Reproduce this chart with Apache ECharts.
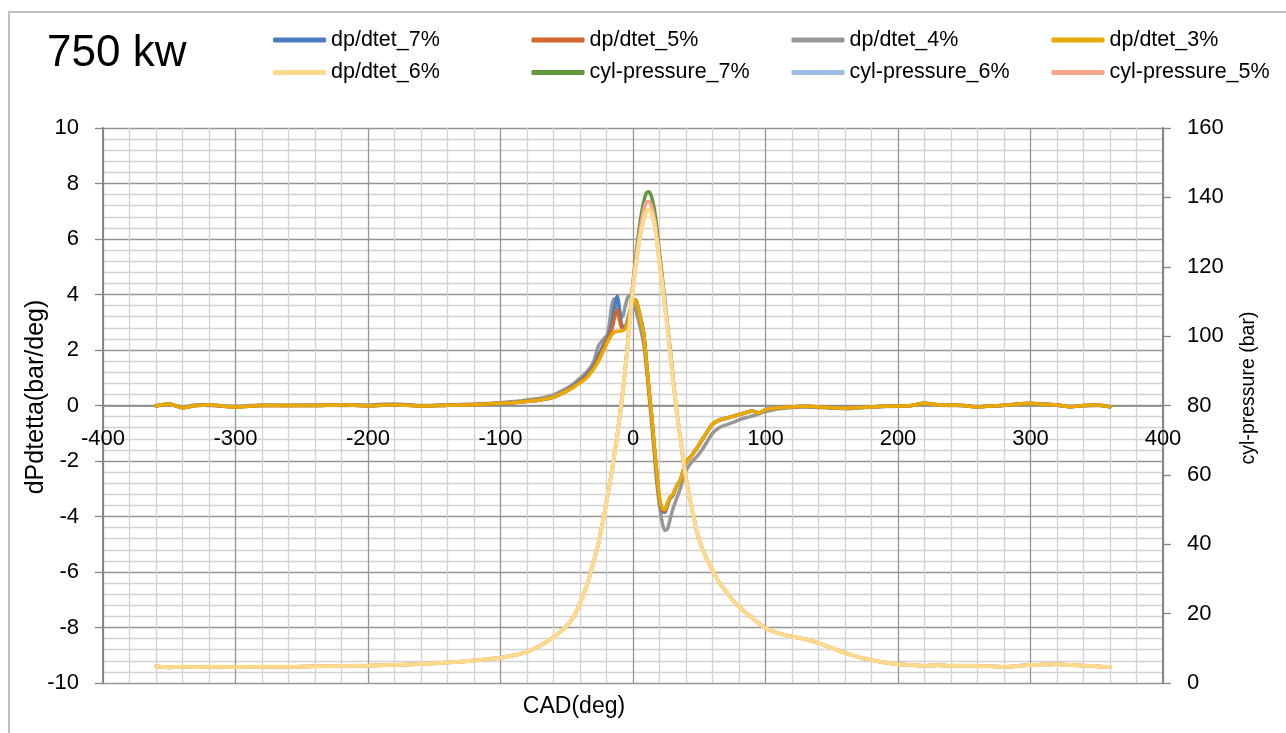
<!DOCTYPE html>
<html>
<head>
<meta charset="utf-8">
<script src="https://cdn.jsdelivr.net/npm/echarts@6/dist/echarts.min.js"></script>
<style>
html,body{margin:0;padding:0;background:#fff;}
#chart{width:1286px;height:733px;}
</style>
</head>
<body>
<div id="chart"></div>
<script>
// Crank angle (deg)
const CAD = [
  -360,-350,-340,-330,-320,-300,-280,-260,-240,-220,-200,-180,-160,-140,-120,-100,
  -90,-80,-70,-60,-50,
  -45,-40,-35,-30,
  -26,-22,-19,-16,-14,-12,-10,-8,-6,-4,-2,
  0,2,4,6,8,10,12,14,16,18,20,22,24,26,28,30,
  33,36,40,44,48,52,56,60,
  65,70,75,80,85,90,95,100,
  110,120,130,140,150,160,170,180,190,200,210,220,230,240,250,260,270,280,290,300,310,320,330,340,350,360
];

// dP/dtheta (bar/deg) - left axis
const dpdtet7 = [
  -0.02,0.05,-0.08,0.0,0.02,-0.05,0.0,0.0,0.0,0.02,-0.01,0.03,-0.02,0.01,0.03,0.08,
  0.1,0.15,0.2,0.3,0.52,
  0.7,0.88,1.1,1.4,
  1.8,2.2,2.45,2.95,3.55,3.95,3.4,2.85,2.85,3.1,3.45,
  3.75,3.8,3.5,3.1,2.65,1.65,0.6,-0.35,-1.5,-2.5,-3.4,-3.8,-3.85,-3.6,-3.35,-3.25,
  -2.9,-2.65,-2.05,-1.82,-1.55,-1.25,-0.95,-0.68,
  -0.53,-0.46,-0.4,-0.33,-0.26,-0.2,-0.27,-0.15,
  -0.08,-0.05,-0.03,-0.05,-0.08,-0.1,-0.07,-0.05,-0.03,-0.02,0.0,0.08,0.03,0.01,0.0,-0.05,-0.02,0.01,0.05,0.08,0.04,0.02,-0.05,0.0,0.02,-0.05
];
const dpdtet5 = [
  -0.02,0.05,-0.08,0.0,0.02,-0.05,0.0,0.0,0.0,0.02,-0.01,0.03,-0.02,0.01,0.03,0.08,
  0.1,0.15,0.2,0.3,0.52,
  0.68,0.85,1.05,1.35,
  1.7,2.1,2.4,2.75,3.15,3.45,3.05,2.75,2.8,3.05,3.42,
  3.72,3.8,3.5,3.05,2.6,1.62,0.6,-0.32,-1.45,-2.45,-3.35,-3.75,-3.8,-3.55,-3.32,-3.22,
  -2.9,-2.65,-2.05,-1.82,-1.55,-1.25,-0.95,-0.68,
  -0.53,-0.46,-0.4,-0.33,-0.26,-0.2,-0.27,-0.15,
  -0.08,-0.05,-0.03,-0.05,-0.08,-0.1,-0.07,-0.05,-0.03,-0.02,0.0,0.08,0.03,0.01,0.0,-0.05,-0.02,0.01,0.05,0.08,0.04,0.02,-0.05,0.0,0.02,-0.05
];
const dpdtet4 = [
  0.0,0.03,-0.05,0.02,0.0,-0.03,0.02,0.0,0.01,0.0,0.02,0.05,0.0,0.02,0.05,0.1,
  0.14,0.2,0.26,0.38,0.62,
  0.78,0.98,1.2,1.55,
  2.15,2.4,2.6,3.6,3.85,3.55,3.2,3.2,3.55,3.9,3.98,
  3.7,3.45,3.1,2.7,2.25,1.4,0.4,-0.6,-1.7,-2.8,-3.6,-4.2,-4.5,-4.45,-4.1,-3.75,
  -3.35,-2.95,-2.35,-2.05,-1.85,-1.6,-1.3,-1.0,
  -0.8,-0.7,-0.62,-0.52,-0.44,-0.38,-0.3,-0.22,
  -0.12,-0.07,-0.05,-0.07,-0.09,-0.12,-0.09,-0.06,-0.04,-0.03,-0.01,0.06,0.02,0.0,-0.01,-0.04,-0.02,0.0,0.04,0.06,0.05,0.01,-0.03,-0.01,0.0,-0.04
];
const dpdtet3 = [
  -0.02,0.05,-0.08,0.0,0.02,-0.05,0.0,0.0,0.0,0.02,-0.01,0.03,-0.02,0.01,0.03,0.08,
  0.1,0.15,0.2,0.3,0.52,
  0.65,0.82,1.0,1.3,
  1.6,2.0,2.3,2.55,2.65,2.68,2.68,2.7,2.75,3.0,3.4,
  3.7,3.8,3.5,3.05,2.6,1.6,0.6,-0.3,-1.4,-2.4,-3.3,-3.7,-3.75,-3.5,-3.3,-3.2,
  -2.9,-2.65,-2.05,-1.82,-1.55,-1.25,-0.95,-0.68,
  -0.53,-0.46,-0.4,-0.33,-0.26,-0.2,-0.27,-0.15,
  -0.08,-0.05,-0.03,-0.05,-0.08,-0.1,-0.07,-0.05,-0.03,-0.02,0.0,0.08,0.03,0.01,0.0,-0.05,-0.02,0.01,0.05,0.08,0.04,0.02,-0.05,0.0,0.02,-0.05
];
// plotted against the pressure axis in the reference
const dpdtet6 = [
  4.8,4.5,4.7,4.6,4.7,4.6,4.7,4.7,4.8,4.9,5.0,5.2,5.5,5.9,6.5,7.3,
  8.0,9.0,10.8,13.2,16.5,
  19.0,23.0,28.0,34.5,
  40.5,48.0,54.5,61.0,66.0,71.0,77.0,83.0,90.0,97.0,106.0,
  113.5,120.0,125.5,130.0,133.5,136.0,136.5,135.5,132.5,127.5,121.0,115.0,108.5,102.0,95.0,88.0,
  78.0,70.0,59.0,51.0,44.0,39.0,35.5,32.5,
  29.0,26.5,24.0,22.0,20.3,18.8,17.2,15.8,
  14.3,13.4,12.6,11.5,10.1,8.7,7.5,6.6,5.9,5.4,5.2,5.0,5.1,5.0,5.0,4.9,4.8,4.7,4.9,5.2,5.3,5.4,5.2,5.0,4.8,4.6
];

// Cylinder pressure (bar) - right axis
const cylPressure7 = [
  4.8,4.5,4.7,4.6,4.7,4.6,4.7,4.7,4.8,4.9,5.0,5.2,5.5,5.9,6.5,7.3,
  8.0,9.0,10.8,13.2,16.5,
  19.0,23.0,28.0,34.5,
  40.5,48.0,54.5,61.0,66.0,71.0,77.0,83.0,90.0,98.0,107.5,
  115.5,122.5,129.0,134.5,138.5,141.2,141.6,140.2,136.8,131.2,124.0,117.5,110.5,103.5,96.5,89.0,
  78.5,70.0,59.0,51.0,44.0,39.0,35.5,32.5,
  29.0,26.5,24.0,22.0,20.3,18.8,17.2,15.8,
  14.3,13.4,12.6,11.5,10.1,8.7,7.5,6.6,5.9,5.4,5.2,5.0,5.1,5.0,5.0,4.9,4.8,4.7,4.9,5.2,5.3,5.4,5.2,5.0,4.8,4.6
];
const cylPressure6 = [
  4.8,4.5,4.7,4.6,4.7,4.6,4.7,4.7,4.8,4.9,5.0,5.2,5.5,5.9,6.5,7.3,
  8.0,9.0,10.8,13.2,16.5,
  19.0,23.0,28.0,34.5,
  40.5,48.0,54.5,61.0,66.0,71.0,77.0,83.0,90.0,97.0,106.0,
  113.5,120.0,125.5,130.0,133.5,136.0,136.5,135.5,132.5,127.5,121.0,115.0,108.5,102.0,95.0,88.0,
  78.0,70.0,59.0,51.0,44.0,39.0,35.5,32.5,
  29.0,26.5,24.0,22.0,20.3,18.8,17.2,15.8,
  14.3,13.4,12.6,11.5,10.1,8.7,7.5,6.6,5.9,5.4,5.2,5.0,5.1,5.0,5.0,4.9,4.8,4.7,4.9,5.2,5.3,5.4,5.2,5.0,4.8,4.6
];
const cylPressure5 = [
  4.8,4.5,4.7,4.6,4.7,4.6,4.7,4.7,4.8,4.9,5.0,5.2,5.5,5.9,6.5,7.3,
  8.0,9.0,10.8,13.2,16.5,
  19.0,23.0,28.0,34.5,
  40.5,48.0,54.5,61.0,66.0,71.0,77.0,83.0,90.0,97.5,106.8,
  114.8,121.2,127.2,132.2,136.2,138.6,138.8,137.5,134.2,129.0,122.5,116.2,109.5,102.8,95.8,88.5,
  78.2,70.0,59.0,51.0,44.0,39.0,35.5,32.5,
  29.0,26.5,24.0,22.0,20.3,18.8,17.2,15.8,
  14.3,13.4,12.6,11.5,10.1,8.7,7.5,6.6,5.9,5.4,5.2,5.0,5.1,5.0,5.0,4.9,4.8,4.7,4.9,5.2,5.3,5.4,5.2,5.0,4.8,4.6
];

const FONT = '"Liberation Sans", Arial, sans-serif';
const pairs = arr => CAD.map((x, i) => [x, arr[i]]);

const seriesDefs = [
  {name:'dp/dtet_4%',       data:dpdtet4,      color:'#979797', axis:0, w:3.5, z:2},
  {name:'dp/dtet_7%',       data:dpdtet7,      color:'#4A7EBF', axis:0, w:3.5, z:3},
  {name:'dp/dtet_5%',       data:dpdtet5,      color:'#D2692B', axis:0, w:3.5, z:4},
  {name:'dp/dtet_3%',       data:dpdtet3,      color:'#E8AA00', axis:0, w:3.5, z:5},
  {name:'cyl-pressure_6%',  data:cylPressure6, color:'#9DBDE2', axis:1, w:3.5, z:6},
  {name:'cyl-pressure_7%',  data:cylPressure7, color:'#62993C', axis:1, w:3.5, z:7},
  {name:'cyl-pressure_5%',  data:cylPressure5, color:'#F2A78A', axis:1, w:3.5, z:8},
  {name:'dp/dtet_6%',       data:dpdtet6,      color:'#FFD98C', axis:1, w:4,   z:9}
];

const legendItems = [
  {name:'dp/dtet_7%',      left:273,   top:29},
  {name:'dp/dtet_5%',      left:531.5, top:29},
  {name:'dp/dtet_4%',      left:791.5, top:29},
  {name:'dp/dtet_3%',      left:1051.5,top:29},
  {name:'dp/dtet_6%',      left:273,   top:61.5},
  {name:'cyl-pressure_7%', left:531.5, top:61.5},
  {name:'cyl-pressure_6%', left:791.5, top:61.5},
  {name:'cyl-pressure_5%', left:1051.5,top:61.5}
];

const GRID = {left:103, right:123, top:128, bottom:50};
const plotH = 733 - GRID.top - GRID.bottom;
const zeroOffset = -plotH / 2; // left axis -10..10, zero at mid height

const chart = echarts.init(document.getElementById('chart'), null, {renderer:'canvas'});
const option = {
  animation:false,
  backgroundColor:'#ffffff',
  textStyle:{fontFamily:FONT},
  grid:Object.assign({containLabel:false, outerBoundsMode:'none'}, GRID),
  legend: legendItems.map(it => ({
    data:[it.name], left:it.left, top:it.top, padding:0,
    icon:'roundRect', itemWidth:53, itemHeight:5, selectedMode:false,
    textStyle:{fontSize:21.5, color:'#000', fontFamily:FONT}
  })),
  xAxis:{
    type:'value', min:-400, max:400, interval:100, position:'bottom', offset:zeroOffset,
    axisLine:{show:true, onZero:false, lineStyle:{color:'#868686', width:1.5}},
    axisTick:{show:false},
    axisLabel:{margin:22, fontSize:22, color:'#000', fontFamily:FONT, showMinLabel:true, showMaxLabel:true},
    splitLine:{show:true, lineStyle:{color:'#969696', width:1.3}},
    minorTick:{show:false, splitNumber:5},
    minorSplitLine:{show:true, lineStyle:{color:'#D2D2D2', width:1.3}}
  },
  yAxis:[
    {
      type:'value', min:-10, max:10, interval:2, position:'left',
      axisLine:{show:true, onZero:false, lineStyle:{color:'#868686', width:2}},
      axisTick:{show:true, inside:false, length:8, lineStyle:{color:'#868686', width:1.3}},
      axisLabel:{margin:24, fontSize:22, color:'#000', fontFamily:FONT},
      splitLine:{show:true, lineStyle:{color:'#969696', width:1.3}},
      minorTick:{show:false, splitNumber:5},
      minorSplitLine:{show:true, lineStyle:{color:'#D2D2D2', width:1.3}}
    },
    {
      type:'value', min:0, max:160, interval:20, position:'right',
      axisLine:{show:true, onZero:false, lineStyle:{color:'#868686', width:2}},
      axisTick:{show:true, inside:false, length:8, lineStyle:{color:'#868686', width:1.3}},
      axisLabel:{margin:24, fontSize:22, color:'#000', fontFamily:FONT},
      splitLine:{show:false}
    }
  ],
  series: seriesDefs.map(s => ({
    name:s.name, type:'line', yAxisIndex:s.axis, data:pairs(s.data),
    showSymbol:false, symbol:'none', smooth:0.3, z:s.z,
    lineStyle:{color:s.color, width:s.w, cap:'round', join:'round'},
    itemStyle:{color:s.color},
    emphasis:{disabled:true}
  })),
  graphic:[
    {type:'rect', silent:true, z:-10, shape:{x:9, y:12, width:1400, height:900},
     style:{fill:'none', stroke:'#BFBFBF', lineWidth:2}},
    {type:'text', left:47, top:32, silent:true,
     style:{text:'750 kw', font:'44px ' + FONT, fill:'#000'}},
    {type:'text', x:36, y:397, rotation:Math.PI/2, silent:true,
     style:{text:'dPdtetta(bar/deg)', font:'25px ' + FONT, fill:'#000', align:'center', verticalAlign:'middle'}},
    {type:'text', x:1249, y:388, rotation:Math.PI/2, silent:true,
     style:{text:'cyl-pressure (bar)', font:'19.5px ' + FONT, fill:'#000', align:'center', verticalAlign:'middle'}},
    {type:'text', x:574, y:707, silent:true,
     style:{text:'CAD(deg)', font:'23px ' + FONT, fill:'#000', align:'center', verticalAlign:'middle'}}
  ]
};
chart.setOption(option);
</script>
</body>
</html>
